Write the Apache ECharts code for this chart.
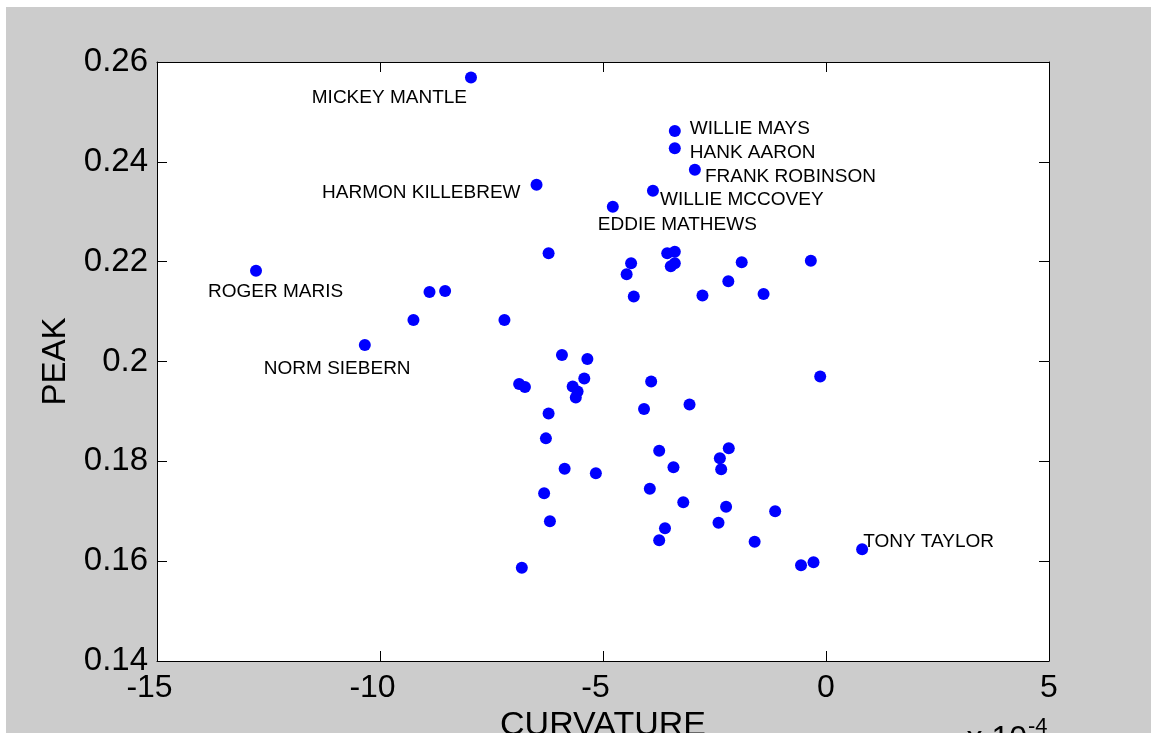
<!DOCTYPE html>
<html><head><meta charset="utf-8">
<script src="https://cdn.jsdelivr.net/npm/echarts@6/dist/echarts.min.js"></script>
<style>
html,body{margin:0;padding:0;background:#fff;width:1151px;height:737px;overflow:hidden}
#chart{position:absolute;left:6px;top:7px;width:1145px;height:726px;background:#cccccc}
</style></head><body><div id="chart"></div>
<script>
// ---- data (curvature in units of 1e-4) ----
const xTicks = [-15, -10, -5, 0, 5];
const yTicks = [0.14, 0.16, 0.18, 0.20, 0.22, 0.24, 0.26];
const xLabel = 'CURVATURE';
const yLabel = 'PEAK';
const xExponent = '-4';

const namedPlayers = ['MICKEY MANTLE', 'WILLIE MAYS', 'HANK AARON', 'FRANK ROBINSON', 'HARMON KILLEBREW',
  'WILLIE MCCOVEY', 'EDDIE MATHEWS', 'ROGER MARIS', 'NORM SIEBERN', 'TONY TAYLOR'];
const namedCurvature = [-7.96, -3.39, -3.39, -2.94, -6.49, -3.88, -4.78, -12.78, -10.34, 0.81];
const namedPeak = [0.2569, 0.2462, 0.2427, 0.2384, 0.2354, 0.2342, 0.2310, 0.2182, 0.2033, 0.1624];

const otherCurvature = [-6.22, -4.37, -4.47, -3.56, -3.39, -3.48, -3.39, -1.89, -0.34, -4.31,
  -2.77, -2.19, -1.40, -7.21, -8.89, -8.54, -9.25, -5.92, -5.35, -5.42,
  -6.88, -6.75, -5.68, -5.57, -5.61, -3.92, -0.13, -6.22, -4.08, -3.06,
  -6.28, -3.74, -2.18, -2.38, -2.35, -5.86, -5.16, -3.42, -6.32, -3.95,
  -3.20, -2.24, -1.14, -6.19, -2.41, -3.61, -3.74, -1.60, -0.56, -0.28, -6.82];
const otherPeak = [0.2217, 0.2197, 0.2175, 0.2217, 0.2220, 0.2191, 0.2197, 0.2199, 0.2202, 0.2130,
  0.2132, 0.2161, 0.2135, 0.2083, 0.2139, 0.2141, 0.2083, 0.2013, 0.2005, 0.1966,
  0.1955, 0.1949, 0.1950, 0.1940, 0.1928, 0.1960, 0.1970, 0.1896, 0.1905, 0.1914,
  0.1846, 0.1821, 0.1826, 0.1806, 0.1784, 0.1785, 0.1776, 0.1788, 0.1736, 0.1745,
  0.1718, 0.1709, 0.1700, 0.1680, 0.1677, 0.1666, 0.1642, 0.1639, 0.1592, 0.1598, 0.1587];

// ---- label placement (style/layout, px offsets from the marker) ----
const labelPlacement = {
  'MICKEY MANTLE':    { align: 'right', dx: -4,   dy: 20 },
  'WILLIE MAYS':      { align: 'left',  dx: 15,   dy: -2 },
  'HANK AARON':       { align: 'left',  dx: 15,   dy: 4 },
  'FRANK ROBINSON':   { align: 'left',  dx: 10,   dy: 7 },
  'HARMON KILLEBREW': { align: 'right', dx: -16,  dy: 8 },
  'WILLIE MCCOVEY':   { align: 'left',  dx: 7,    dy: 9 },
  'EDDIE MATHEWS':    { align: 'left',  dx: -15,  dy: 18 },
  'ROGER MARIS':      { align: 'left',  dx: -48,  dy: 21 },
  'NORM SIEBERN':     { align: 'left',  dx: -101, dy: 24 },
  'TONY TAYLOR':      { align: 'left',  dx: 1,    dy: -7 }
};

const FONT = '"Liberation Sans", Arial, Helvetica, sans-serif';

const points = [];
namedPlayers.forEach((n, i) => {
  const p = labelPlacement[n];
  points.push({
    name: n,
    value: [namedCurvature[i], namedPeak[i]],
    label: {
      show: true, formatter: n, position: 'inside',
      align: p.align, verticalAlign: 'middle', offset: [p.dx, p.dy],
      color: '#000', fontSize: 19, fontFamily: FONT
    }
  });
});
otherCurvature.forEach((x, i) => points.push({ value: [x, otherPeak[i]] }));

const axisLine = { show: true, onZero: false, lineStyle: { color: '#000', width: 1 } };
const tick = { show: true, inside: true, length: 10, lineStyle: { color: '#000', width: 1 } };
const xMin = xTicks[0], xMax = xTicks[xTicks.length - 1], xInt = xTicks[1] - xTicks[0];
const yMin = yTicks[0], yMax = yTicks[yTicks.length - 1], yInt = +(yTicks[1] - yTicks[0]).toFixed(4);

// MATLAB centres the digits on the tick; the minus sign hangs to the left.
const xTickFormatter = v => v < 0 ? '-' + String(Math.abs(v)) + '{pad|}' : String(v);

const chart = echarts.init(document.getElementById('chart'), null, { renderer: 'canvas' });
chart.setOption({
  animation: false,
  backgroundColor: '#cccccc',
  grid: { left: 151, top: 55, width: 892, height: 599, show: true, backgroundColor: '#fff', borderWidth: 0,
    containLabel: false, outerBoundsMode: 'none' },
  xAxis: [
    { type: 'value', position: 'bottom', min: xMin, max: xMax, interval: xInt,
      axisLine, axisTick: tick, splitLine: { show: false },
      axisLabel: { color: '#000', fontSize: 32, fontFamily: FONT, margin: 11, formatter: xTickFormatter,
        rich: { pad: { width: 15, fontSize: 32 } } },
      name: xLabel, nameLocation: 'middle', nameGap: 42,
      nameTextStyle: { color: '#000', fontSize: 34, fontFamily: FONT } },
    { type: 'value', position: 'top', min: xMin, max: xMax, interval: xInt,
      axisLine, axisTick: tick, splitLine: { show: false }, axisLabel: { show: false } }
  ],
  yAxis: [
    { type: 'value', position: 'left', min: yMin, max: yMax, interval: yInt,
      axisLine, axisTick: tick, splitLine: { show: false },
      axisLabel: { color: '#000', fontSize: 33, fontFamily: FONT, margin: 9,
        formatter: v => String(+(+v).toFixed(2)) },
      name: yLabel, nameLocation: 'middle', nameGap: 84, nameRotate: 90,
      nameTextStyle: { color: '#000', fontSize: 33, fontFamily: FONT } },
    { type: 'value', position: 'right', min: yMin, max: yMax, interval: yInt,
      axisLine, axisTick: tick, splitLine: { show: false }, axisLabel: { show: false } }
  ],
  series: [{
    type: 'scatter', xAxisIndex: 0, yAxisIndex: 0,
    symbol: 'circle', symbolSize: 12,
    itemStyle: { color: '#0000ff', opacity: 1 },
    emphasis: { disabled: true },
    data: points
  }],
  graphic: [
    { type: 'text', silent: true,
      style: { text: 'x 10', x: 1021, y: 716, font: '32px ' + FONT, fill: '#000',
        textAlign: 'right', align: 'right', textVerticalAlign: 'top', verticalAlign: 'top' } },
    { type: 'text', silent: true,
      style: { text: xExponent, x: 1022, y: 709, font: '22px ' + FONT, fill: '#000',
        textAlign: 'left', align: 'left', textVerticalAlign: 'top', verticalAlign: 'top' } }
  ]
});
</script></body></html>
